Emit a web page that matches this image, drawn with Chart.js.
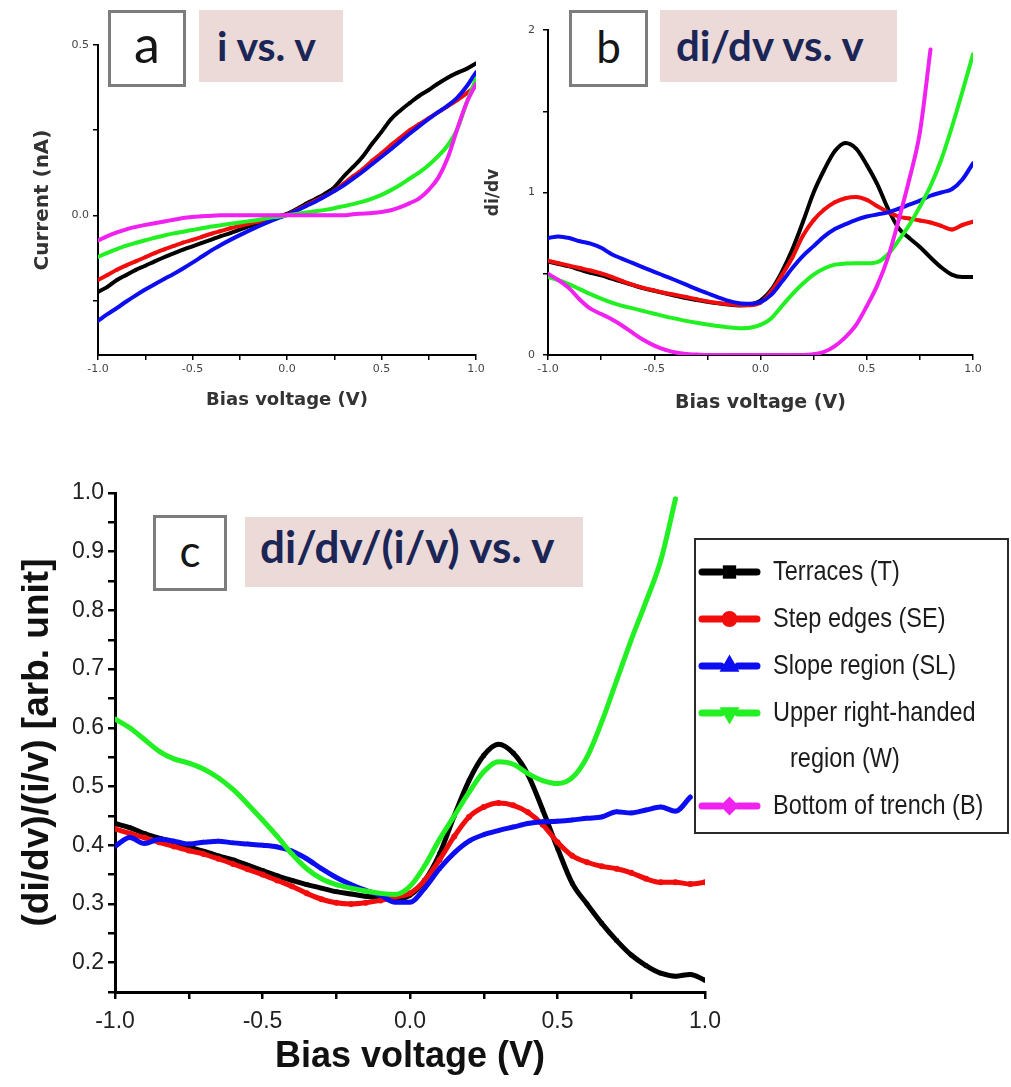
<!DOCTYPE html>
<html>
<head>
<meta charset="utf-8">
<script src="https://cdn.jsdelivr.net/npm/chart.js@4.4.0/dist/chart.umd.min.js"></script>
<style>
  html, body { margin: 0; padding: 0; background: #fff; }
  #page { position: relative; width: 1011px; height: 1087px; overflow: hidden; background: #fff; }
  .pane { position: absolute; }
  .tag { position: absolute; box-sizing: border-box; border: 3px solid #7d7d7d; background: #fff;
         font-family: Lato, "Open Sans", sans-serif; color: #161616; text-align: center; }
  .head { position: absolute; box-sizing: border-box; background: #ebdad7; font-family: Lato, "Open Sans", sans-serif;
          font-weight: 700; color: #1c2656; white-space: nowrap; }
</style>
</head>
<body>
<div id="page">
  <div class="pane" style="left:0;top:0;width:500px;height:430px"><canvas id="chartA"></canvas></div>
  <div class="pane" style="left:470px;top:0;width:541px;height:430px"><canvas id="chartB"></canvas></div>
  <div class="pane" style="left:0;top:470px;width:1011px;height:617px"><canvas id="chartC"></canvas></div>

  <div class="tag" style="left:108px;top:10px;width:78px;height:77px;font-size:52px;line-height:52px;padding-top:4px">a</div>
  <div class="head" style="left:199px;top:10px;width:144px;height:72px;font-size:41px;line-height:41px;padding:15px 0 0 18px">i vs. v</div>

  <div class="tag" style="left:569px;top:10px;width:79px;height:77px;font-size:44px;line-height:44px;padding-top:11px">b</div>
  <div class="head" style="left:660px;top:10px;width:237px;height:72px;font-size:42px;line-height:42px;padding:14px 0 0 16px">di/dv vs. v</div>

  <div class="tag" style="left:153px;top:515px;width:74px;height:76px;font-size:44px;line-height:44px;padding-top:10px">c</div>
  <div class="head" style="left:245px;top:517px;width:338px;height:70px;font-size:44px;line-height:44px;padding:7px 0 0 15px">di/dv/(i/v) vs. v</div>
</div>

<script>
// Bias voltage grid shared by every curve (V)
const bias = [-1.00,-0.95,-0.90,-0.85,-0.80,-0.75,-0.70,-0.65,-0.60,-0.55,-0.50,-0.45,-0.40,-0.35,-0.30,-0.25,-0.20,-0.15,-0.10,-0.05,
               0.00, 0.05, 0.10, 0.15, 0.20, 0.25, 0.30, 0.35, 0.40, 0.45, 0.50, 0.55, 0.60, 0.65, 0.70, 0.75, 0.80, 0.85, 0.90, 0.95, 1.00];

// Region names
const regionNames = ['Terraces (T)', 'Step edges (SE)', 'Slope region (SL)', ['Upper right-handed', 'region (W)'], 'Bottom of trench (B)'];

// (a) current, nA
const curT  = [-0.225,-0.21,-0.19,-0.175,-0.16,-0.148,-0.135,-0.123,-0.112,-0.101,-0.091,-0.081,-0.071,-0.061,-0.052,-0.042,-0.032,-0.022,-0.013,-0.004,
               0.004,0.018,0.034,0.048,0.063,0.082,0.114,0.142,0.172,0.21,0.245,0.282,0.308,0.33,0.351,0.368,0.387,0.404,0.418,0.43,0.446];
const curSE = [-0.19,-0.175,-0.16,-0.147,-0.135,-0.123,-0.111,-0.1,-0.09,-0.08,-0.072,-0.063,-0.054,-0.046,-0.038,-0.031,-0.024,-0.018,-0.011,-0.005,
               0.002,0.015,0.029,0.043,0.056,0.072,0.093,0.115,0.135,0.16,0.182,0.206,0.228,0.25,0.268,0.285,0.303,0.32,0.338,0.358,0.38];
const curSL = [-0.31,-0.29,-0.272,-0.253,-0.235,-0.218,-0.202,-0.187,-0.172,-0.156,-0.139,-0.121,-0.103,-0.087,-0.072,-0.058,-0.045,-0.032,-0.02,-0.009,
               0.001,0.013,0.027,0.04,0.055,0.071,0.088,0.108,0.128,0.15,0.172,0.194,0.217,0.24,0.262,0.283,0.303,0.322,0.345,0.378,0.42];
const curW  = [-0.122,-0.11,-0.099,-0.089,-0.081,-0.073,-0.066,-0.059,-0.053,-0.048,-0.043,-0.038,-0.033,-0.029,-0.025,-0.021,-0.017,-0.013,-0.008,-0.004,
               0.0,0.004,0.008,0.012,0.016,0.021,0.027,0.033,0.04,0.049,0.06,0.074,0.09,0.108,0.126,0.148,0.174,0.205,0.252,0.33,0.40];
const curB  = [-0.074,-0.061,-0.05,-0.041,-0.034,-0.028,-0.023,-0.018,-0.013,-0.008,-0.005,-0.003,-0.001,0.0,0.0,0.0,0.0,0.0,0.0,0.0,
               0.0,0.0,0.0,0.0,0.0,0.0,0.0,0.003,0.005,0.007,0.01,0.015,0.024,0.036,0.05,0.075,0.11,0.168,0.252,0.33,0.385];

// (b) di/dv
const didvT  = [0.575,0.56,0.545,0.525,0.505,0.49,0.47,0.45,0.43,0.41,0.395,0.38,0.365,0.35,0.338,0.327,0.318,0.31,0.305,0.31,
                0.335,0.4,0.51,0.65,0.82,1.0,1.14,1.255,1.305,1.27,1.17,1.05,0.9,0.78,0.72,0.665,0.6,0.54,0.495,0.48,0.48];
const didvSE = [0.58,0.565,0.55,0.535,0.52,0.502,0.48,0.455,0.432,0.413,0.397,0.382,0.37,0.357,0.343,0.33,0.32,0.312,0.307,0.306,
                0.322,0.39,0.49,0.6,0.735,0.83,0.895,0.94,0.965,0.972,0.955,0.915,0.88,0.852,0.84,0.828,0.815,0.795,0.772,0.8,0.82];
const didvSL = [0.72,0.73,0.72,0.7,0.685,0.66,0.62,0.592,0.565,0.538,0.512,0.486,0.46,0.433,0.405,0.38,0.355,0.333,0.318,0.315,
                0.325,0.37,0.45,0.535,0.61,0.67,0.73,0.775,0.805,0.832,0.852,0.865,0.878,0.9,0.925,0.95,0.98,1.0,1.02,1.08,1.18];
const didvW  = [0.48,0.46,0.435,0.405,0.375,0.347,0.322,0.302,0.287,0.27,0.254,0.238,0.224,0.21,0.198,0.188,0.178,0.17,0.165,0.168,
                0.185,0.225,0.3,0.375,0.44,0.495,0.532,0.556,0.563,0.565,0.565,0.572,0.62,0.705,0.8,0.913,1.04,1.2,1.4,1.62,1.85];
const didvB  = [0.5,0.46,0.41,0.34,0.285,0.252,0.22,0.18,0.135,0.092,0.058,0.033,0.015,0.006,0.003,0.0,0.0,0.0,0.0,0.0,
                0.0,0.0,0.0,0.0,0.0,0.005,0.02,0.055,0.11,0.185,0.3,0.43,0.6,0.83,1.08,1.37,1.88,null,null,null,null];

// (c) normalised conductance (di/dv)/(i/v)
const normT  = [0.437,0.43,0.42,0.412,0.405,0.397,0.39,0.382,0.375,0.366,0.357,0.348,0.34,0.333,0.327,0.321,0.317,0.313,0.31,0.308,
                0.315,0.34,0.385,0.45,0.51,0.553,0.572,0.557,0.52,0.46,0.395,0.335,0.3,0.267,0.238,0.213,0.195,0.182,0.177,0.18,0.17];
const normSE = [0.428,0.42,0.413,0.405,0.398,0.391,0.385,0.377,0.368,0.359,0.35,0.34,0.33,0.318,0.308,0.302,0.3,0.302,0.306,0.312,
                0.318,0.34,0.375,0.415,0.448,0.465,0.472,0.468,0.456,0.435,0.405,0.382,0.371,0.364,0.36,0.353,0.343,0.337,0.337,0.334,0.337];
const normSL = [0.398,0.413,0.403,0.41,0.407,0.402,0.405,0.407,0.404,0.402,0.4,0.397,0.39,0.377,0.36,0.345,0.333,0.323,0.315,0.303,
                0.303,0.327,0.36,0.387,0.407,0.418,0.425,0.431,0.437,0.44,0.441,0.443,0.446,0.448,0.457,0.455,0.46,0.465,0.458,0.482,null];
const normW  = [0.615,0.6,0.58,0.56,0.547,0.54,0.53,0.515,0.495,0.47,0.443,0.415,0.385,0.36,0.343,0.333,0.327,0.322,0.318,0.316,
                0.33,0.365,0.41,0.45,0.49,0.525,0.542,0.538,0.522,0.51,0.505,0.515,0.55,0.61,0.68,0.75,0.815,0.885,0.99,null,null];
const normB  = [];   // trench curve lies outside the 0.15 - 1.0 window

// Axis ticks (major values and their labels)
const voltTicks  = [-1.0, -0.5, 0.0, 0.5, 1.0];
const voltLabels = ['-1.0', '-0.5', '0.0', '0.5', '1.0'];
const curTicks   = [0.0, 0.5];
const curLabels  = ['0.0', '0.5'];
const didvTicks  = [0, 1, 2];
const didvLabels = ['0', '1', '2'];
const normTicks  = [0.2, 0.3, 0.4, 0.5, 0.6, 0.7, 0.8, 0.9, 1.0];
const normLabels = ['0.2', '0.3', '0.4', '0.5', '0.6', '0.7', '0.8', '0.9', '1.0'];

const colors  = ['#000000', '#f20d0d', '#0d0df2', '#22f022', '#f022f0'];
const markers = ['rect', 'circle', 'triangle', 'triangle', 'rectRot'];
const markerTurn = [0, 0, 0, 180, 0];

Chart.defaults.font.family = '"Liberation Sans", Arial, sans-serif';
Chart.defaults.animation = false;

function makeSets(series, lineW, ptR) {
  return series.map((vals, i) => ({
    label: regionNames[i],
    data: vals.map((y, k) => ({ x: bias[k], y })),
    borderColor: colors[i],
    backgroundColor: colors[i],
    pointBackgroundColor: colors[i],
    pointBorderColor: colors[i],
    pointStyle: markers[i],
    pointRotation: markerTurn[i],
    pointRadius: ptR,
    pointBorderWidth: 0,
    borderWidth: lineW,
    borderJoinStyle: 'round',
    borderCapStyle: 'round',
    cubicInterpolationMode: 'monotone',
    spanGaps: false,
    order: -i
  }));
}

function tickMaker(majors, labels, step) {
  return {
    build(axis) {
      const out = [];
      const k0 = Math.ceil(axis.min / step - 1e-9);
      for (let k = k0; k * step <= axis.max + 1e-9; k++) out.push({ value: +(k * step).toFixed(4) });
      axis.ticks = out;
    },
    label(value) {
      const i = majors.findIndex(m => Math.abs(m - value) < 1e-6);
      return i >= 0 ? labels[i] : '';
    }
  };
}

function axis(opts) {
  const t = tickMaker(opts.majors, opts.labels, opts.step);
  return {
    type: 'linear',
    position: opts.position,
    min: opts.min, max: opts.max,
    afterBuildTicks: t.build,
    afterFit: s => { if (opts.position === 'left') s.width = opts.size; else s.height = opts.size; },
    border: { display: true, color: '#000', width: opts.border },
    grid: { display: true, drawOnChartArea: false, drawTicks: true, tickLength: opts.tickLen, color: '#000', lineWidth: opts.tickW },
    ticks: { autoSkip: false, maxRotation: 0, padding: opts.pad, color: opts.tickColor, font: opts.tickFont, callback: t.label },
    title: { display: true, text: opts.title, color: opts.titleColor, font: opts.titleFont, padding: opts.titlePad }
  };
}

function baseOptions(padding, xAxis, yAxis) {
  return {
    responsive: true,
    maintainAspectRatio: false,
    animation: false,
    layout: { padding },
    plugins: { legend: { display: false }, tooltip: { enabled: false } },
    scales: { x: xAxis, y: yAxis }
  };
}

const smallTick = { family: '"DejaVu Sans", sans-serif', size: 11 };
const dejaBold = size => ({ family: '"DejaVu Sans", sans-serif', size, weight: 'bold' });

// (a) i vs. v
new Chart(document.getElementById('chartA'), {
  type: 'line',
  data: { datasets: makeSets([curT, curSE, curSL, curW, curB], 4, 2) },
  options: baseOptions({ left: 0, top: 45, right: 24, bottom: 0 },
    axis({ position: 'bottom', min: -1, max: 1, majors: voltTicks, labels: voltLabels, step: 0.25, size: 75,
           border: 2, tickLen: 5, tickW: 1.5, pad: 3, tickColor: '#444', tickFont: smallTick,
           title: 'Bias voltage (V)', titleColor: '#333', titleFont: dejaBold(18), titlePad: { top: 0, bottom: 19 } }),
    axis({ position: 'left', min: -0.41, max: 0.5, majors: curTicks, labels: curLabels, step: 0.25, size: 98,
           border: 2, tickLen: 5, tickW: 1.5, pad: 4, tickColor: '#444', tickFont: smallTick,
           title: 'Current (nA)', titleColor: '#333', titleFont: dejaBold(20), titlePad: { top: 31, bottom: 0 } }))
});

// (b) di/dv vs. v
new Chart(document.getElementById('chartB'), {
  type: 'line',
  data: { datasets: makeSets([didvT, didvSE, didvSL, didvW, didvB], 4, 2) },
  options: baseOptions({ left: 0, top: 30, right: 38, bottom: 0 },
    axis({ position: 'bottom', min: -1, max: 1, majors: voltTicks, labels: voltLabels, step: 0.25, size: 75,
           border: 2, tickLen: 5, tickW: 1.5, pad: 3, tickColor: '#444', tickFont: smallTick,
           title: 'Bias voltage (V)', titleColor: '#333', titleFont: dejaBold(19), titlePad: { top: 0, bottom: 16 } }),
    axis({ position: 'left', min: 0, max: 2, majors: didvTicks, labels: didvLabels, step: 0.5, size: 78,
           border: 2, tickLen: 5, tickW: 1.5, pad: 8, tickColor: '#444', tickFont: smallTick,
           title: 'di/dv', titleColor: '#333', titleFont: dejaBold(17), titlePad: { top: 13, bottom: 0 } }))
});

// Key for panel (c), drawn inside the plot frame
const seriesKey = {
  id: 'seriesKey',
  afterDraw(chart) {
    const { ctx, chartArea } = chart;
    const x0 = chartArea.right - 10, y0 = chartArea.top + 46, w = 313, h = 294;
    ctx.save();
    ctx.fillStyle = '#fff';
    ctx.fillRect(x0, y0, w, h);
    ctx.lineWidth = 2;
    ctx.strokeStyle = '#2a2a2a';
    ctx.strokeRect(x0, y0, w, h);
    ctx.font = '28px "Liberation Sans", Arial, sans-serif';
    ctx.textBaseline = 'middle';
    let y = y0 + 33;
    chart.data.datasets.forEach(ds => {
      const lines = Array.isArray(ds.label) ? ds.label : [ds.label];
      ctx.strokeStyle = ds.borderColor;
      ctx.fillStyle = ds.borderColor;
      ctx.lineWidth = 7;
      ctx.lineCap = 'round';
      ctx.beginPath();
      ctx.moveTo(x0 + 7, y); ctx.lineTo(x0 + 26, y);
      ctx.moveTo(x0 + 43, y); ctx.lineTo(x0 + 62, y);
      ctx.stroke();
      Chart.helpers.drawPoint(ctx, { pointStyle: ds.pointStyle, rotation: ds.pointRotation, radius: 4.5, borderWidth: 1 }, x0 + 34.5, y);
      ctx.fillStyle = '#1c1c1c';
      lines.forEach((txt, j) => {
        // condensed lettering
        ctx.save();
        ctx.translate(x0 + (j === 0 ? 78 : 95), y);
        ctx.scale(0.84, 1);
        ctx.fillText(txt, 0, 0);
        ctx.restore();
        if (j < lines.length - 1) y += 46;
      });
      y += 47;
    });
    ctx.restore();
  }
};

// (c) (di/dv)/(i/v) vs. v
new Chart(document.getElementById('chartC'), {
  type: 'line',
  data: { datasets: makeSets([normT, normSE, normSL, normW, normB], 5, 3) },
  options: baseOptions({ left: 0, top: 23, right: 306, bottom: 0 },
    axis({ position: 'bottom', min: -1, max: 1, majors: voltTicks, labels: voltLabels, step: 0.25, size: 95,
           border: 3, tickLen: 7, tickW: 2.5, pad: 9, tickColor: '#222', tickFont: { size: 23 },
           title: 'Bias voltage (V)', titleColor: '#111', titleFont: { size: 36, weight: 'bold' }, titlePad: { top: 0, bottom: 8 } }),
    axis({ position: 'left', min: 0.15, max: 1.0, majors: normTicks, labels: normLabels, step: 0.05, size: 115,
           border: 3, tickLen: 7, tickW: 2.5, pad: 4, tickColor: '#222', tickFont: { size: 23 },
           title: '(di/dv)/(i/v) [arb. unit]', titleColor: '#111', titleFont: { size: 37, weight: 'bold' }, titlePad: { top: 16, bottom: 0 } })),
  plugins: [seriesKey]
});
</script>
</body>
</html>
